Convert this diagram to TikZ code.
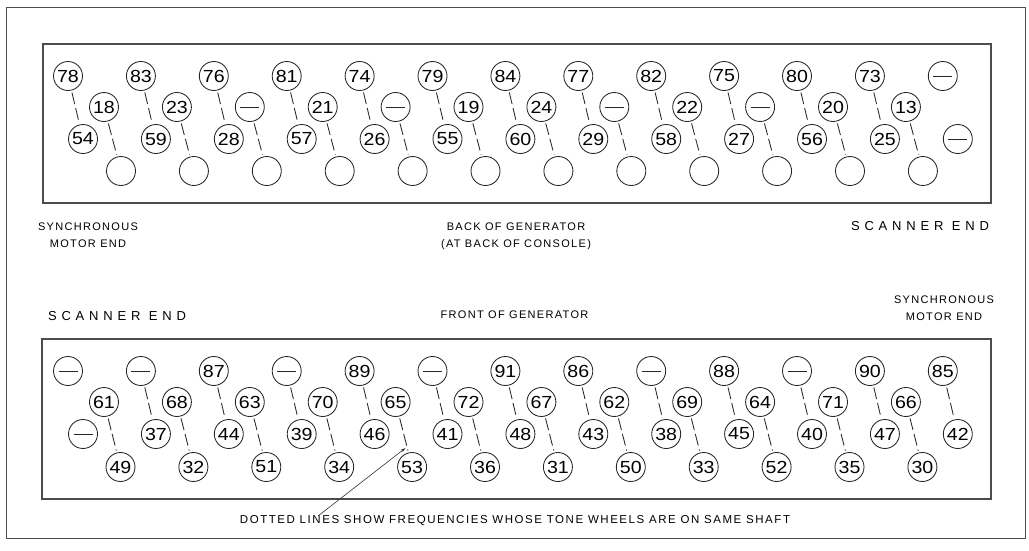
\documentclass[tikz,border=0pt]{standalone}
\usepackage{fontspec}
\setmainfont{Liberation Sans}
\usetikzlibrary{calc,arrows.meta}
\newcommand\cn[1]{\scalebox{1.12}[1]{#1}}
\tikzset{
  numwheel/.style={circle, draw=black!85, line width=0.85pt, minimum size=29pt, inner sep=0pt,
    font=\fontsize{17.5}{17.5}\selectfont},
  plainwheel/.style={numwheel},
  dashwheel/.style={numwheel, path picture={\draw[line width=0.85pt]
      ([xshift=5pt]path picture bounding box.west) -- ([xshift=-5pt]path picture bounding box.east);}},
  shaft/.style={draw=black!85, line width=0.85pt, dash pattern=on 12pt off 4pt,
    shorten <=2pt, shorten >=2pt},
  panel/.style={draw=black!70, line width=1.3pt},
  frame/.style={draw=black!70, line width=1pt},
  lbl/.style={font=\fontsize{11}{17}\selectfont\addfontfeature{LetterSpace=12}, align=center, inner sep=0pt},
  bigl/.style={font=\fontsize{13}{15}\selectfont\addfontfeature{LetterSpace=37}, inner sep=0pt},
  pointer/.style={draw=black!80, line width=0.6pt, -{Stealth[length=5pt,width=3pt]}},
}
\begin{document}
\begin{tikzpicture}[x=1pt,y=-1pt]
\useasboundingbox (0,0) rectangle (1029,550);
\draw[frame] (6,7) rectangle (1025,538);
\draw[panel] (43,44) rectangle (991,203);
\draw[panel] (42,339) rectangle (991,499);

% ---------- top panel (back of generator)
\foreach \s/\v [count=\k from 0] in {numwheel/78,numwheel/83,numwheel/76,numwheel/81,numwheel/74,numwheel/79,numwheel/84,numwheel/77,numwheel/82,numwheel/75,numwheel/80,numwheel/73,dashwheel/{}}
  \node[\s] (t1-\k) at ({68+72.9*\k},76) {\cn{\v}};
\foreach \s/\v [count=\k from 0] in {numwheel/18,numwheel/23,dashwheel/{},numwheel/21,dashwheel/{},numwheel/19,numwheel/24,dashwheel/{},numwheel/22,dashwheel/{},numwheel/20,numwheel/13}
  \node[\s] (t2-\k) at ({104+72.9*\k},107) {\cn{\v}};
\foreach \s/\v [count=\k from 0] in {numwheel/54,numwheel/59,numwheel/28,numwheel/57,numwheel/26,numwheel/55,numwheel/60,numwheel/29,numwheel/58,numwheel/27,numwheel/56,numwheel/25,dashwheel/{}}
  \node[\s] (t3-\k) at ({83+72.9*\k},139) {\cn{\v}};
\foreach \k in {0,...,11}
  \node[plainwheel] (t4-\k) at ({121+72.9*\k},171) {};
\foreach \k in {0,...,11} {
  \draw[shaft] (t1-\k) -- (t3-\k);
  \draw[shaft] (t2-\k) -- (t4-\k);
}

% ---------- bottom panel (front of generator)
\foreach \s/\v [count=\k from 0] in {dashwheel/{},dashwheel/{},numwheel/87,dashwheel/{},numwheel/89,dashwheel/{},numwheel/91,numwheel/86,dashwheel/{},numwheel/88,dashwheel/{},numwheel/90,numwheel/85}
  \node[\s] (b1-\k) at ({68+72.9*\k},371) {\cn{\v}};
\foreach \s/\v [count=\k from 0] in {numwheel/61,numwheel/68,numwheel/63,numwheel/70,numwheel/65,numwheel/72,numwheel/67,numwheel/62,numwheel/69,numwheel/64,numwheel/71,numwheel/66}
  \node[\s] (b2-\k) at ({104+72.9*\k},402) {\cn{\v}};
\foreach \s/\v [count=\k from 0] in {dashwheel/{},numwheel/37,numwheel/44,numwheel/39,numwheel/46,numwheel/41,numwheel/48,numwheel/43,numwheel/38,numwheel/45,numwheel/40,numwheel/47,numwheel/42}
  \node[\s] (b3-\k) at ({83+72.9*\k},434) {\cn{\v}};
\foreach \s/\v [count=\k from 0] in {numwheel/49,numwheel/32,numwheel/51,numwheel/34,numwheel/53,numwheel/36,numwheel/31,numwheel/50,numwheel/33,numwheel/52,numwheel/35,numwheel/30}
  \node[\s] (b4-\k) at ({120.5+72.9*\k},467) {\cn{\v}};
\foreach \k in {1,...,12}
  \draw[shaft] (b1-\k) -- (b3-\k);
\foreach \k in {0,...,11}
  \draw[shaft] (b2-\k) -- (b4-\k);

% ---------- labels
\node[lbl] (synL) at (88,235) {SYNCHRONOUS\\MOTOR END};
\node[lbl] (back) at (516,236) {BACK OF GENERATOR\\(AT BACK OF CONSOLE)};
\node[bigl] (scanR) at (920,226) {SCANNER END};
\node[bigl] (scanL) at (117,316) {SCANNER END};
\node[lbl] (front) at (514.5,315) {FRONT OF GENERATOR};
\node[lbl] (synR) at (944,308) {SYNCHRONOUS\\MOTOR END};
\node[lbl, font=\fontsize{11.5}{14}\selectfont\addfontfeature{LetterSpace=13.5}] (note) at (515,521)
  {DOTTED LINES SHOW FREQUENCIES WHOSE TONE WHEELS ARE ON SAME SHAFT};
\coordinate (arrtail) at (318,516);
\coordinate (arrhead) at ($(b2-4)!0.69!(b4-4)$);
\draw[pointer, shorten >=2pt] (arrtail) -- (arrhead);
\end{tikzpicture}
\end{document}
